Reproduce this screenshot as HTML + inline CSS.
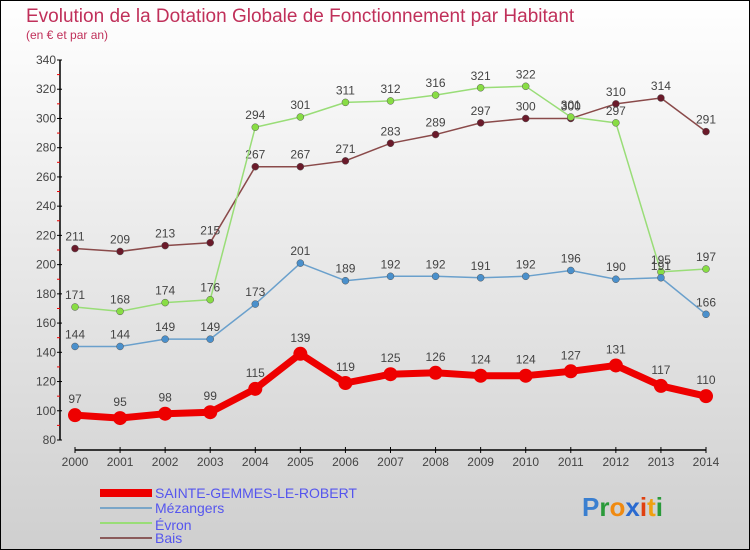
<!DOCTYPE html>
<html><head><meta charset="utf-8"><style>
body{margin:0;}
#c{width:750px;height:550px;position:relative;overflow:hidden;}
svg text{font-family:"Liberation Sans",sans-serif;}
</style></head><body>
<div id="c">
<svg id="s" width="750" height="550" xmlns="http://www.w3.org/2000/svg">
<defs><linearGradient id="bg" x1="0" y1="0" x2="0" y2="1"><stop offset="0" stop-color="#ffffff"/><stop offset="1" stop-color="#cfcfcf"/></linearGradient></defs>
<rect x="0.5" y="0.5" width="749" height="549" fill="url(#bg)" stroke="#000"/>
<text x="26" y="22" font-size="19" fill="#c0305a">Evolution de la Dotation Globale de Fonctionnement par Habitant</text>
<text x="26" y="39" font-size="12" fill="#c0305a">(en € et par an)</text>
<g id="axes"></g><g id="series"></g>
<g>
<rect x="100" y="489" width="52" height="8" fill="#e00"/>
<text x="155" y="498" font-size="14" fill="#5555ee">SAINTE-GEMMES-LE-ROBERT</text>
<rect x="100" y="507" width="52" height="2" fill="#7aa6c8"/>
<text x="155" y="513" font-size="14" fill="#5555ee">Mézangers</text>
<rect x="100" y="522" width="52" height="2" fill="#99dd77"/>
<text x="155" y="530" font-size="14" fill="#5555ee">Évron</text>
<rect x="100" y="537" width="52" height="2" fill="#8a5a5a"/>
<text x="155" y="543" font-size="14" fill="#5555ee">Bais</text>
</g>
<text x="582" y="516" font-size="26" font-weight="bold"><tspan fill="#3a7fd0">P</tspan><tspan fill="#2a9a3a">r</tspan><tspan fill="#f08a10">o</tspan><tspan fill="#2a6ad0">x</tspan><tspan fill="#e04010">i</tspan><tspan fill="#f0a010">t</tspan><tspan fill="#2a9a3a">i</tspan></text>
</svg></div>
<script>
const years=[2000,2001,2002,2003,2004,2005,2006,2007,2008,2009,2010,2011,2012,2013,2014];
const yTicks=[80,100,120,140,160,180,200,220,240,260,280,300,320,340];
const sainte=[97,95,98,99,115,139,119,125,126,124,124,127,131,117,110];
const mezangers=[144,144,149,149,173,201,189,192,192,191,192,196,190,191,166];
const evron=[171,168,174,176,294,301,311,312,316,321,322,301,297,195,197];
const bais=[211,209,213,215,267,267,271,283,289,297,300,300,310,314,291];
const NS="http://www.w3.org/2000/svg";
const X=i=>75+i*(706-75)/(years.length-1);
const Y=v=>440-(v-80)*(380/260);
function el(t,a,p){const e=document.createElementNS(NS,t);for(const k in a)e.setAttribute(k,a[k]);p.appendChild(e);return e;}
const ax=document.getElementById('axes');
const ya=el('line',{x1:60,y1:Y(340),x2:60,y2:Y(80),stroke:'#000','stroke-width':1.5},ax);


yTicks.forEach((v,k)=>{
 el('line',{x1:57,y1:Y(v),x2:62,y2:Y(v),stroke:'#000'},ax);
 if(k<yTicks.length-1) el('line',{x1:57,y1:Y(v+10),x2:60,y2:Y(v+10),stroke:'#e00'},ax);
 const t=el('text',{x:56,y:Y(v)+4,'font-size':12,fill:'#444','text-anchor':'end'},ax);
 t.textContent=v;
 
 
});
const xa=el('line',{x1:75,y1:450,x2:706,y2:450,stroke:'#000','stroke-width':1.5},ax);


years.forEach((y,i)=>{
 el('line',{x1:X(i),y1:447,x2:X(i),y2:453,stroke:'#000'},ax);
 const t=el('text',{x:X(i),y:466,'font-size':12,fill:'#444','text-anchor':'middle'},ax);
 t.textContent=y;
 
 
});
const sg=document.getElementById('series');
function draw(data,color,dot,lw,r,name){
 const g=el('g',{},sg);
 
 
 const pl=el('polyline',{points:data.map((v,i)=>X(i)+','+Y(v)).join(' '),fill:'none',stroke:color,'stroke-width':lw,'stroke-linejoin':'round'},g);
 
 
 data.forEach((v,i)=>{
  const c=el('circle',{cx:X(i),cy:Y(v),r:r,fill:dot,stroke:r>5?'none':'#555','stroke-width':0.5},g);
  
  
  const t=el('text',{x:X(i),y:Y(v)-(r>5?12:8),'font-size':12,fill:'#444','text-anchor':'middle'},g);
  t.textContent=v;
  
  
 });
}
draw(bais,'#8a4a4a','#6a1a2a',1.5,3.5,'bais-series');
draw(evron,'#99dd77','#88dd44',1.5,3.5,'evron-series');
draw(mezangers,'#6aa0cc','#4a90cc',1.5,3.5,'mezangers-series');
draw(sainte,'#ee0000','#ee0000',7,7,'sainte-gemmes-series');
</script>
</body></html>
